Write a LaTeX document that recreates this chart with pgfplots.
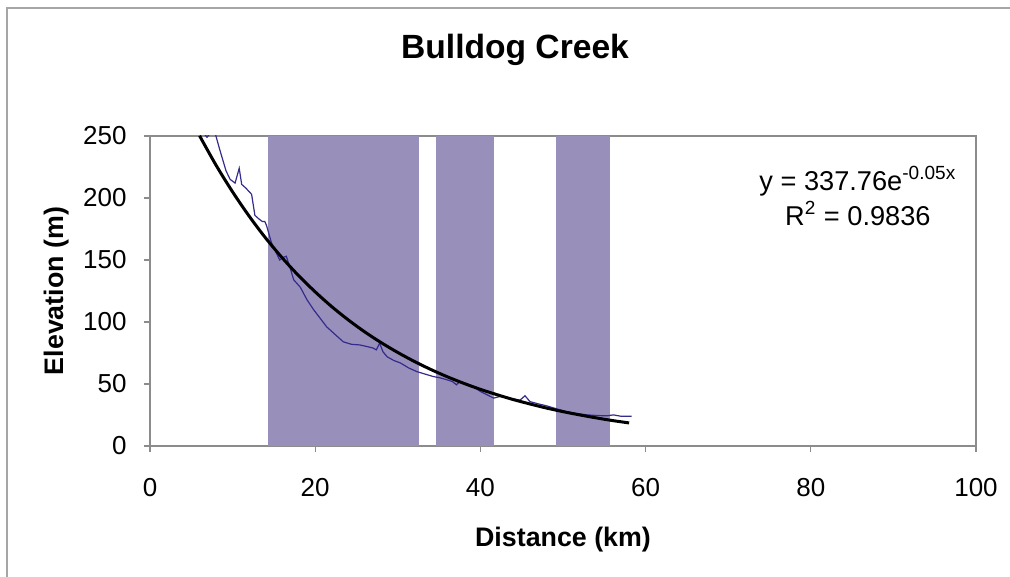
\documentclass[border=0pt]{standalone}
\usepackage{fontspec}
\setmainfont{Liberation Sans}
\usepackage{pgfplots}
\pgfplotsset{compat=1.18}
\definecolor{barfill}{RGB}{153,143,187}
\definecolor{profile}{RGB}{52,44,140}
\definecolor{axgray}{RGB}{140,140,140}
\begin{document}
\begin{tikzpicture}
\path[use as bounding box] (0,0) rectangle (505pt,288.5pt);
\fill[white] (0,0) rectangle (505pt,288.5pt);
\draw[gray!70, line width=1pt] (3.5pt,0) -- (3.5pt,284.5pt) -- (505pt,284.5pt);
\begin{axis}[
  at={(75pt,65.5pt)}, anchor=south west,
  scale only axis, width=413pt, height=155pt,
  xmin=0, xmax=100, ymin=0, ymax=250,
  xtick={0,20,...,100}, ytick={0,50,...,250},
  tick align=outside, tick pos=left, major tick length=3pt,
  axis line style={draw=axgray, line width=0.6pt},
  every tick/.style={draw=axgray, line width=0.6pt},
  /pgf/number format/assume math mode=true,
  ticklabel style={font=\fontsize{13}{15}\selectfont},
  xticklabel style={anchor=base, inner sep=0pt, yshift=-22.5pt},
  yticklabel style={anchor=east, inner sep=0pt, xshift=-8.5pt},
  xlabel={Distance (km)},
  ylabel={Elevation (m)},
  label style={font=\bfseries\fontsize{13.4}{15}\selectfont},
  xlabel style={at={(axis description cs:0.5,-0.3258)}, anchor=base},
  ylabel style={at={(axis description cs:-0.1053,0.5)}, anchor=base},
  title={Bulldog Creek},
  title style={font=\bfseries\fontsize{16.8}{19}\selectfont, at={(axis description cs:0.4419,1.2097)}, anchor=base},
]
\addplot[fill=barfill, draw=none] coordinates {(14.3,0) (14.3,250) (32.6,250) (32.6,0)} -- cycle;
\addplot[fill=barfill, draw=none] coordinates {(34.6,0) (34.6,250) (41.7,250) (41.7,0)} -- cycle;
\addplot[fill=barfill, draw=none] coordinates {(49.2,0) (49.2,250) (55.7,250) (55.7,0)} -- cycle;
\addplot[profile, line width=0.6pt] coordinates {
(6.3,254) (6.9,249) (7.4,253) (7.9,252) (8.4,240) (8.8,231) (9.2,222) (9.7,215)
(10.3,212) (10.8,224) (11.1,211) (11.6,208) (12.3,203) (12.7,186) (13.2,183)
(13.6,181) (13.9,181) (14.1,178) (14.7,164) (15.2,157) (15.7,150) (16.1,152)
(16.5,153) (16.9,145) (17.4,134) (18.2,128) (19.0,118) (19.8,110) (20.6,103)
(21.4,96) (22.4,90) (23.4,84) (24.4,82) (25.4,81.5) (26.4,80) (27.0,79)
(27.4,77.5) (27.8,83) (28.2,76) (28.7,72) (29.5,69) (30.3,67) (31.3,63)
(32.3,60) (33.3,58) (34.3,56) (35.1,55) (35.9,53.5) (36.6,52) (37.1,49.4)
(37.5,52) (38.3,50) (39.1,48) (40.0,44) (40.8,41.3) (41.6,38.6) (42.4,40)
(43.5,38.5) (44.8,37) (45.4,40.5) (46.0,35.8) (47.0,34) (48.0,32.4) (49.2,30)
(50.4,27.8) (51.6,26.3) (52.9,25.1) (54.1,24.6) (55.3,24.3) (56.1,25.1)
(57.0,24) (58.3,24)
};
\addplot[black, line width=1.5pt, smooth] coordinates {
(6,250.2) (8,226.4) (10,204.9) (12,185.4) (14,167.7) (16,151.8) (18,137.3)
(20,124.3) (22,112.4) (24,101.7) (26,92.0) (28,83.3) (30,75.4) (32,68.2)
(34,61.7) (36,55.8) (38,50.5) (40,45.7) (42,41.4) (44,37.4) (46,33.9)
(48,30.6) (50,27.7) (52,25.1) (54,22.7) (56,20.5) (58,18.6)
};
\node[align=center, font=\fontsize{13.6}{17.5}\selectfont] at (axis cs:85.7,201.5)
  {y = 337.76e\textsuperscript{-0.05x}\\R\textsuperscript{2} = 0.9836};
\end{axis}
\end{tikzpicture}
\end{document}
